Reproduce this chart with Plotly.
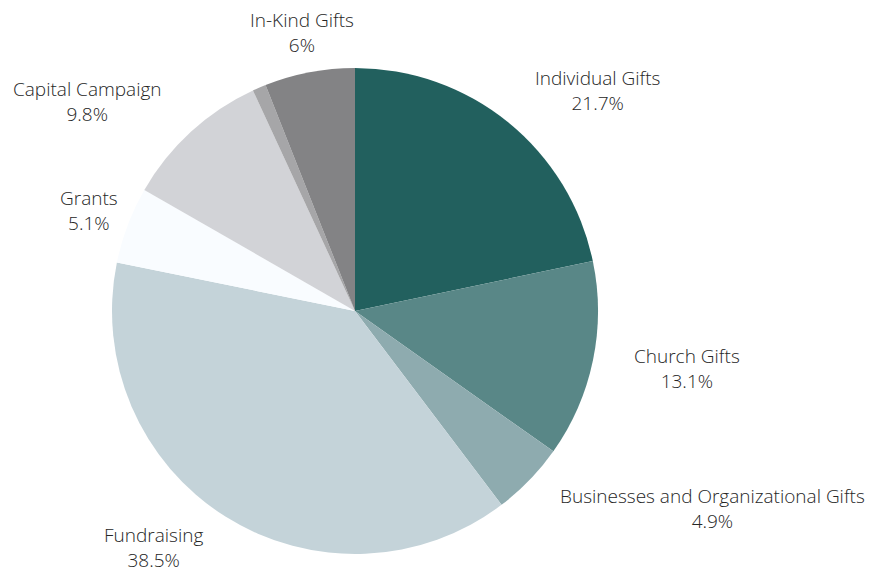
import math
import plotly.graph_objects as go

labels = ["Individual Gifts", "Church Gifts", "Businesses and Organizational Gifts",
          "Fundraising", "Grants", "Capital Campaign", "Other", "In-Kind Gifts"]
values = [21.7, 13.1, 4.9, 38.5, 5.1, 9.8, 0.9, 6]
show_label = [True, True, True, True, True, True, False, True]
colors = ["#22605e", "#598787", "#8eabaf", "#c4d3d9", "#f9fcff", "#d2d3d7", "#a6a6a8", "#838385"]
label_align = ["left", "left", "left", "right", "center", "right", "center", "center"]

W, H = 883, 574
cx, cy, r = 355, 311, 243          # pie centre/radius in pixels
r_label = 284                      # radius of label anchor points
font_size = 19
half_box = font_size * 1.3 + 1     # half height of a two-line label box

fig = go.Figure(go.Pie(
    labels=labels, values=values, textinfo="none", sort=False,
    direction="clockwise", rotation=0,
    marker=dict(colors=colors, line=dict(width=0)),
    domain=dict(x=[(cx - r) / W, (cx + r) / W], y=[(H - cy - r) / H, (H - cy + r) / H]),
    showlegend=False,
))

total = sum(values)
cum = 0.0
annotations = []
for lab, val, show, al in zip(labels, values, show_label, label_align):
    mid = (cum + val / 2) / total * 2 * math.pi
    cum += val
    if not show:
        continue
    px = cx + r_label * math.sin(mid)
    py = cy - r_label * math.cos(mid)
    py = min(max(py, half_box + 1), H - half_box - 1)   # keep label inside the page
    annotations.append(dict(
        x=px / W, y=(H - py) / H, xref="paper", yref="paper",
        text=f"{lab}<br>{val:g}%", showarrow=False,
        xanchor=al, yanchor="middle", align="center", borderpad=0,
        font=dict(family="Open Sans", size=font_size, color="#262626", weight=300),
    ))

fig.update_layout(width=W, height=H, margin=dict(l=0, r=0, t=0, b=0),
                  paper_bgcolor="white", plot_bgcolor="white",
                  annotations=annotations)
fig.write_html("out.html")
